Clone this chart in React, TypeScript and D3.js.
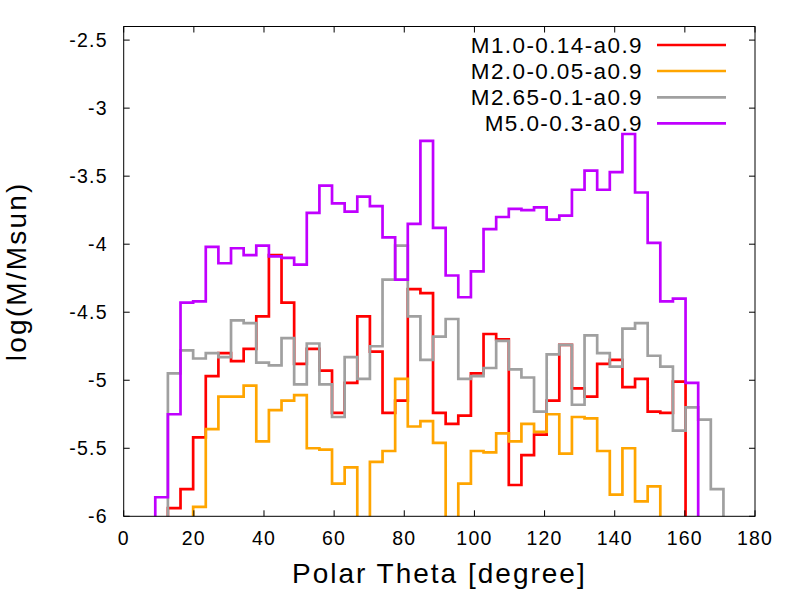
import React from "react";
import * as d3 from "d3";

// bin centres (degrees)
const theta: number[] = d3.range(50).map((k) => k * 3.6);

const N = null;
const seriesNames = ["M1.0-0.14-a0.9", "M2.0-0.05-a0.9", "M2.65-0.1-a0.9", "M5.0-0.3-a0.9"];
const seriesColors = ["#ff0000", "#ffa500", "#a0a0a0", "#c000ff"];

// values per bin (null = below plotted range)
const red: (number | null)[] = [
  N, N, N, N, -5.94, -5.80, -5.42, -4.97, -4.80, -4.86,
  -4.77, -4.53, -4.08, -4.43, -4.88, -4.77, -4.93, -5.24, -5.02, -4.53,
  -4.79, -5.24, -5.15, -4.33, -4.36, -5.24, -5.32, -5.26, -4.95, -4.66,
  -4.70, -5.77, -5.55, -5.40, -5.15, -4.74, -5.06, -5.12, -4.88, -4.85,
  -5.05, -4.99, -5.23, -5.24, -5.01, N, N, N, N, N,
];
const orange: (number | null)[] = [
  N, N, N, N, N, N, -5.93, -5.36, -5.12, -5.12,
  -5.04, -5.45, -5.22, -5.15, -5.11, -5.50, -5.51, -5.76, -5.64, N,
  -5.60, -5.52, -4.99, -5.34, -5.30, -5.46, N, -5.76, -5.52, -5.53,
  -5.39, -5.45, -5.32, -5.38, -5.25, -5.54, -5.27, -5.28, -5.52, -5.84,
  -5.50, -5.89, -5.78, N, N, N, N, N, N, N,
];
const gray: (number | null)[] = [
  N, N, N, N, -4.95, -4.78, -4.84, -4.80, -4.83, -4.56,
  -4.58, -4.87, -4.89, -4.69, -5.03, -4.73, -5.03, -5.27, -4.83, -4.99,
  -4.75, -4.26, -4.01, -4.53, -4.85, -4.68, -4.55, -4.99, -4.97, -4.91,
  -4.71, -4.92, -4.98, -5.23, -4.81, -4.74, -5.18, -4.67, -4.80, -4.90,
  -4.62, -4.58, -4.82, -4.90, -5.37, -5.20, -5.29, -5.80, N, N,
];
const purple: (number | null)[] = [
  N, N, N, -5.86, -5.25, -4.43, -4.42, -4.02, -4.14, -4.03,
  -4.08, -4.01, -4.09, -4.10, -4.15, -3.77, -3.57, -3.70, -3.76, -3.65,
  -3.72, -3.95, -4.26, -3.85, -3.24, -3.88, -4.23, -4.39, -4.20, -3.89,
  -3.80, -3.74, -3.75, -3.73, -3.82, -3.79, -3.60, -3.46, -3.60, -3.47,
  -3.19, -3.62, -3.99, -4.42, -4.40, -5.02, N, N, N, N,
];
const allSeries = [red, orange, gray, purple];

const xTicks = [0, 20, 40, 60, 80, 100, 120, 140, 160, 180];
const yTicks = [-6, -5.5, -5, -4.5, -4, -3.5, -3, -2.5];

const W = 800;
const H = 600;
const L = 123.7;
const R = 755;
const T = 26.5;
const B = 516.3;
const FONT = "'Liberation Sans', Arial, Helvetica, sans-serif";

export default function App() {
  const x = d3.scaleLinear().domain([0, 180]).range([L, R]);
  const y = d3.scaleLinear().domain([-6, -2.4]).range([B, T]);
  const binW = 3.6;
  const below = B + 40;

  const stepPath = (vals: (number | null)[]) => {
    const pts: [number, number][] = [];
    const first = vals.findIndex((v) => v !== null);
    let last = vals.length - 1;
    while (last >= 0 && vals[last] === null) last--;
    pts.push([x(theta[first] - binW / 2), below]);
    for (let k = first; k <= last; k++) {
      const v = vals[k];
      const yy = v === null ? below : y(v);
      pts.push([x(theta[k] - binW / 2), yy]);
      pts.push([x(theta[k] + binW / 2), yy]);
    }
    pts.push([x(theta[last] + binW / 2), below]);
    return d3.line()(pts) || "";
  };

  const tickLen = 6;
  const legendY = [45, 71, 97.3, 123.3];

  return (
    <svg
      width={W}
      height={H}
      viewBox={`0 0 ${W} ${H}`}
      style={{ position: "absolute", left: 0, top: 0, background: "#fff" }}
    >
      <defs>
        <clipPath id="plotclip">
          <rect x={L} y={T} width={R - L} height={B - T} />
        </clipPath>
      </defs>
      <rect x={0} y={0} width={W} height={H} fill="#fff" />

      {/* data */}
      <g clipPath="url(#plotclip)">
        {allSeries.map((s, i) => (
          <path
            key={i}
            d={stepPath(s)}
            fill="none"
            stroke={seriesColors[i]}
            strokeWidth={2.7}
            strokeLinejoin="miter"
            strokeLinecap="square"
          />
        ))}
      </g>

      {/* frame */}
      <rect x={L} y={T} width={R - L} height={B - T} fill="none" stroke="#000" strokeWidth={1} />

      {/* x ticks */}
      {xTicks.map((t) => (
        <g key={"x" + t}>
          <line x1={x(t)} x2={x(t)} y1={B} y2={B - tickLen} stroke="#000" />
          <line x1={x(t)} x2={x(t)} y1={T} y2={T + tickLen} stroke="#000" />
          <text
            x={x(t)}
            y={544.5}
            textAnchor="middle"
            fontFamily={FONT}
            fontSize={19.5}
            letterSpacing={1.2}
            fill="#000"
          >
            {t}
          </text>
        </g>
      ))}

      {/* y ticks */}
      {yTicks.map((t) => (
        <g key={"y" + t}>
          <line x1={L} x2={L + tickLen} y1={y(t)} y2={y(t)} stroke="#000" />
          <line x1={R} x2={R - tickLen} y1={y(t)} y2={y(t)} stroke="#000" />
          <text
            x={107.7}
            y={y(t)}
            dy="0.35em"
            textAnchor="end"
            fontFamily={FONT}
            fontSize={19.5}
            letterSpacing={1.2}
            fill="#000"
          >
            {String(t)}
          </text>
        </g>
      ))}

      {/* axis titles */}
      <text
        x={(L + R) / 2}
        y={583}
        textAnchor="middle"
        fontFamily={FONT}
        fontSize={28}
        letterSpacing={2}
        fill="#000"
      >
        Polar Theta [degree]
      </text>
      <text
        transform={`translate(26,${(T + B) / 2}) rotate(-90)`}
        textAnchor="middle"
        fontFamily={FONT}
        fontSize={28}
        letterSpacing={2.2}
        fill="#000"
      >
        log(M/Msun)
      </text>

      {/* legend */}
      {seriesNames.map((name, i) => (
        <g key={name}>
          <text
            x={643}
            y={legendY[i]}
            dy="0.35em"
            textAnchor="end"
            fontFamily={FONT}
            fontSize={22.5}
            letterSpacing={1.4}
            fill="#000"
          >
            {name}
          </text>
          <line
            x1={657}
            x2={726}
            y1={legendY[i]}
            y2={legendY[i]}
            stroke={seriesColors[i]}
            strokeWidth={2.7}
          />
        </g>
      ))}
    </svg>
  );
}
